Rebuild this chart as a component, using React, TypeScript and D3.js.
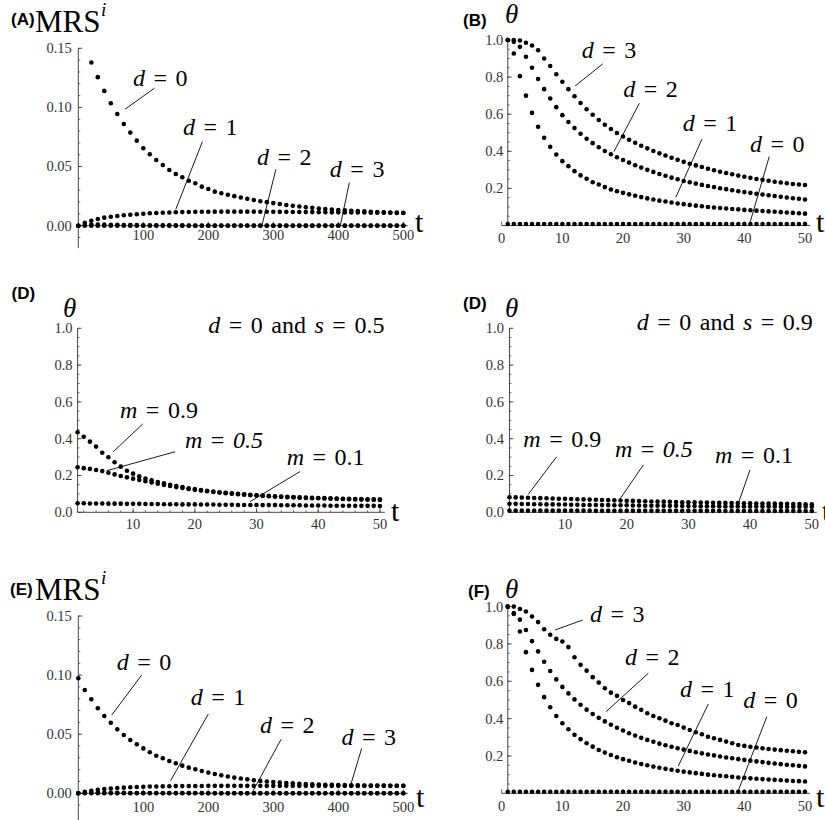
import React from "react";
import * as d3 from "d3";

const SERIF = '"Liberation Serif", "DejaVu Serif", "Times New Roman", serif';
const SANS = '"Liberation Sans", Arial, sans-serif';
const AXIS = "#333";
const TICKTXT = "#333";

// ---------- x categories ----------
const tMRS = d3.range(0, 501, 10); // t = 0,10,...,500
const tTheta = d3.range(1, 51); // t = 1..50

// ---------- tick labels ----------
const mrsYTicks = [0, 0.05, 0.1, 0.15];
const mrsXTicks = [100, 200, 300, 400, 500];
const thetaYTicks = [0.2, 0.4, 0.6, 0.8, 1.0];
const thetaXTicks = [0, 10, 20, 30, 40, 50];
const dYTicks = [0, 0.2, 0.4, 0.6, 0.8, 1.0];
const dXTicks = [10, 20, 30, 40, 50];

// ---------- Panel A : MRS^i ----------
const A_d0 = [null, null, 0.138, 0.1256, 0.114, 0.1036, 0.0945, 0.086, 0.0787, 0.0719,
  0.0655, 0.0604, 0.0556, 0.0513, 0.0471, 0.0437, 0.041, 0.038, 0.0359, 0.033,
  0.031, 0.0288, 0.0275, 0.0262, 0.025, 0.0238, 0.0227, 0.0217, 0.0207, 0.0199,
  0.0191, 0.0183, 0.0175, 0.0168, 0.0162, 0.0156, 0.0151, 0.0146, 0.0141, 0.0137,
  0.0133, 0.013, 0.0127, 0.0124, 0.0121, 0.0118, 0.0116, 0.0114, 0.0112, 0.0111, 0.011];
const A_d1 = [0, 0.0025, 0.0042, 0.0057, 0.0068, 0.0076, 0.0082, 0.0088, 0.0093, 0.0097,
  0.0101, 0.0105, 0.0108, 0.011, 0.0112, 0.0114, 0.0115, 0.0116, 0.0117, 0.0118,
  0.0118, 0.0119, 0.0119, 0.0119, 0.0119, 0.0119, 0.0119, 0.0119, 0.0118, 0.0118,
  0.0118, 0.0117, 0.0117, 0.0116, 0.0116, 0.0115, 0.0115, 0.0114, 0.0114, 0.0113,
  0.0113, 0.0112, 0.0112, 0.0111, 0.0111, 0.011, 0.011, 0.0109, 0.0109, 0.0108, 0.0108];
const A_d2 = [0, 0.0008, 0.001, 0.001, 0.0009, 0.0008, 0.0007, 0.0006, 0.0005, 0.0005,
  0.0004, 0.0004, 0.0004, 0.0003, 0.0003, 0.0003, 0.0003, 0.0002, 0.0002, 0.0002,
  0.0002, 0.0002, 0.0002, 0.0002, 0.0002, 0.0002, 0.0002, 0.0002, 0.0002, 0.0002,
  0.0001, 0.0001, 0.0001, 0.0001, 0.0001, 0.0001, 0.0001, 0.0001, 0.0001, 0.0001,
  0.0001, 0.0001, 0.0001, 0.0001, 0.0001, 0.0001, 0.0001, 0.0001, 0.0001, 0.0001, 0.0001];
const A_d3 = [0, 0, 0, 0, 0, 0, 0, 0, 0, 0,
  0, 0, 0, 0, 0, 0, 0, 0, 0, 0,
  0, 0, 0, 0, 0, 0, 0, 0, 0, 0,
  0, 0, 0, 0, 0, 0, 0, 0, 0, 0,
  0, 0, 0, 0, 0, 0, 0, 0, 0, 0, 0];

// ---------- Panel B : theta ----------
const B_d3 = [1.0, 1.0, 0.997, 0.985, 0.97, 0.945, 0.9, 0.86, 0.815, 0.775,
  0.735, 0.697, 0.66, 0.627, 0.597, 0.569, 0.543, 0.52, 0.499, 0.48,
  0.462, 0.446, 0.43, 0.416, 0.402, 0.389, 0.377, 0.365, 0.354, 0.343,
  0.333, 0.324, 0.315, 0.306, 0.298, 0.29, 0.283, 0.276, 0.269, 0.263,
  0.257, 0.251, 0.246, 0.241, 0.236, 0.232, 0.228, 0.224, 0.221, 0.218];
const B_d2 = [1.0, 0.99, 0.963, 0.91, 0.85, 0.79, 0.735, 0.685, 0.638, 0.595,
  0.558, 0.525, 0.495, 0.468, 0.444, 0.422, 0.402, 0.384, 0.368, 0.353,
  0.339, 0.325, 0.312, 0.3, 0.289, 0.278, 0.268, 0.258, 0.249, 0.24,
  0.233, 0.226, 0.219, 0.213, 0.207, 0.201, 0.196, 0.19, 0.185, 0.18,
  0.176, 0.171, 0.167, 0.163, 0.159, 0.155, 0.151, 0.147, 0.144, 0.14];
const B_d1 = [1.0, 0.927, 0.805, 0.7, 0.607, 0.532, 0.473, 0.424, 0.383, 0.347,
  0.32, 0.293, 0.27, 0.252, 0.233, 0.221, 0.207, 0.194, 0.185, 0.176,
  0.168, 0.16, 0.153, 0.146, 0.14, 0.134, 0.129, 0.124, 0.119, 0.115,
  0.111, 0.107, 0.104, 0.1, 0.097, 0.094, 0.092, 0.089, 0.087, 0.084,
  0.082, 0.08, 0.078, 0.076, 0.074, 0.072, 0.07, 0.068, 0.066, 0.064];
const B_d0 = [0.008, 0.008, 0.008, 0.008, 0.008, 0.008, 0.008, 0.008, 0.008, 0.008,
  0.008, 0.008, 0.008, 0.008, 0.008, 0.008, 0.008, 0.008, 0.008, 0.008,
  0.008, 0.008, 0.008, 0.008, 0.008, 0.008, 0.008, 0.008, 0.008, 0.008,
  0.008, 0.008, 0.008, 0.008, 0.008, 0.008, 0.008, 0.008, 0.008, 0.008,
  0.008, 0.008, 0.008, 0.008, 0.008, 0.008, 0.008, 0.008, 0.008, 0.008];

// ---------- Panel D (s = 0.5) ----------
const DL_m09 = [0.435, 0.411, 0.384, 0.357, 0.324, 0.299, 0.272, 0.248, 0.226, 0.21,
  0.196, 0.184, 0.174, 0.165, 0.157, 0.15, 0.143, 0.137, 0.131, 0.126,
  0.121, 0.117, 0.113, 0.109, 0.106, 0.103, 0.1, 0.098, 0.095, 0.093,
  0.091, 0.089, 0.087, 0.086, 0.084, 0.083, 0.081, 0.08, 0.079, 0.078,
  0.077, 0.076, 0.075, 0.074, 0.073, 0.072, 0.072, 0.071, 0.07, 0.07];
const DL_m05 = [0.245, 0.24, 0.236, 0.23, 0.224, 0.215, 0.206, 0.197, 0.19, 0.183,
  0.176, 0.169, 0.162, 0.155, 0.149, 0.143, 0.137, 0.132, 0.127, 0.122,
  0.118, 0.114, 0.11, 0.107, 0.104, 0.101, 0.098, 0.096, 0.093, 0.091,
  0.089, 0.087, 0.085, 0.084, 0.082, 0.081, 0.079, 0.078, 0.077, 0.076,
  0.075, 0.074, 0.073, 0.072, 0.071, 0.07, 0.069, 0.068, 0.068, 0.067];
const DL_m01 = [0.049, 0.049, 0.048, 0.048, 0.048, 0.047, 0.047, 0.047, 0.046, 0.046,
  0.046, 0.045, 0.045, 0.045, 0.044, 0.044, 0.044, 0.043, 0.043, 0.043,
  0.042, 0.042, 0.042, 0.041, 0.041, 0.041, 0.04, 0.04, 0.04, 0.04,
  0.039, 0.039, 0.039, 0.038, 0.038, 0.038, 0.038, 0.037, 0.037, 0.037,
  0.037, 0.036, 0.036, 0.036, 0.036, 0.035, 0.035, 0.035, 0.035, 0.034];

// ---------- Panel D (s = 0.9) ----------
const DR_m09 = [0.082, 0.081, 0.08, 0.079, 0.078, 0.077, 0.076, 0.075, 0.074, 0.073,
  0.072, 0.071, 0.07, 0.069, 0.068, 0.067, 0.066, 0.065, 0.064, 0.063,
  0.062, 0.061, 0.06, 0.059, 0.058, 0.058, 0.057, 0.056, 0.055, 0.055,
  0.054, 0.053, 0.053, 0.052, 0.051, 0.051, 0.05, 0.05, 0.049, 0.049,
  0.048, 0.048, 0.047, 0.047, 0.046, 0.046, 0.045, 0.045, 0.044, 0.043];
const DR_m05 = [0.046, 0.046, 0.045, 0.045, 0.044, 0.044, 0.043, 0.043, 0.042, 0.042,
  0.041, 0.041, 0.04, 0.04, 0.04, 0.039, 0.039, 0.038, 0.038, 0.038,
  0.037, 0.037, 0.036, 0.036, 0.036, 0.035, 0.035, 0.035, 0.034, 0.034,
  0.034, 0.033, 0.033, 0.033, 0.033, 0.032, 0.032, 0.032, 0.032, 0.031,
  0.031, 0.031, 0.031, 0.031, 0.03, 0.03, 0.03, 0.03, 0.03, 0.03];
const DR_m01 = [0.009, 0.009, 0.009, 0.009, 0.009, 0.009, 0.009, 0.009, 0.009, 0.009,
  0.009, 0.009, 0.009, 0.009, 0.008, 0.008, 0.008, 0.008, 0.008, 0.008,
  0.008, 0.008, 0.008, 0.008, 0.008, 0.008, 0.008, 0.008, 0.008, 0.008,
  0.008, 0.008, 0.008, 0.008, 0.008, 0.007, 0.007, 0.007, 0.007, 0.007,
  0.007, 0.007, 0.007, 0.007, 0.007, 0.007, 0.007, 0.007, 0.007, 0.007];

// ---------- Panel E : MRS^i ----------
const E_d0 = [0.0973, 0.0874, 0.0795, 0.0719, 0.0654, 0.0597, 0.0541, 0.0493, 0.0451, 0.0414,
  0.038, 0.0347, 0.0318, 0.0296, 0.0273, 0.0254, 0.0234, 0.0217, 0.0203, 0.0189,
  0.0175, 0.0163, 0.0152, 0.0142, 0.0133, 0.0125, 0.0118, 0.0111, 0.0105, 0.01,
  0.0095, 0.0091, 0.0087, 0.0084, 0.0081, 0.0078, 0.0076, 0.0074, 0.0072, 0.0071,
  0.007, 0.0069, 0.0068, 0.0067, 0.0066, 0.0066, 0.0065, 0.0065, 0.0064, 0.0064, 0.0064];
const E_d1 = [0, 0.0012, 0.0022, 0.003, 0.0036, 0.0041, 0.0045, 0.0048, 0.0051, 0.0053,
  0.0055, 0.0057, 0.0058, 0.0059, 0.006, 0.0061, 0.0061, 0.0062, 0.0062, 0.0062,
  0.0063, 0.0063, 0.0063, 0.0063, 0.0063, 0.0063, 0.0063, 0.0063, 0.0063, 0.0063,
  0.0063, 0.0063, 0.0063, 0.0063, 0.0063, 0.0063, 0.0063, 0.0063, 0.0063, 0.0063,
  0.0063, 0.0063, 0.0063, 0.0063, 0.0063, 0.0063, 0.0063, 0.0063, 0.0063, 0.0063, 0.0063];
const E_d2 = [0, 0.0005, 0.0006, 0.0006, 0.0005, 0.0005, 0.0004, 0.0004, 0.0003, 0.0003,
  0.0003, 0.0002, 0.0002, 0.0002, 0.0002, 0.0002, 0.0002, 0.0002, 0.0002, 0.0002,
  0.0001, 0.0001, 0.0001, 0.0001, 0.0001, 0.0001, 0.0001, 0.0001, 0.0001, 0.0001,
  0.0001, 0.0001, 0.0001, 0.0001, 0.0001, 0.0001, 0.0001, 0.0001, 0.0001, 0.0001,
  0.0001, 0.0001, 0.0001, 0.0001, 0.0001, 0.0001, 0.0001, 0.0001, 0.0001, 0.0001, 0.0001];
const E_d3 = [0, 0, 0, 0, 0, 0, 0, 0, 0, 0,
  0, 0, 0, 0, 0, 0, 0, 0, 0, 0,
  0, 0, 0, 0, 0, 0, 0, 0, 0, 0,
  0, 0, 0, 0, 0, 0, 0, 0, 0, 0,
  0, 0, 0, 0, 0, 0, 0, 0, 0, 0, 0];

// ---------- Panel F : theta ----------
const F_d3 = [1.0, 1.0, 0.987, 0.974, 0.947, 0.917, 0.879, 0.849, 0.827, 0.813,
  0.783, 0.729, 0.688, 0.657, 0.622, 0.593, 0.563, 0.539, 0.522, 0.5,
  0.483, 0.464, 0.447, 0.429, 0.414, 0.402, 0.389, 0.375, 0.366, 0.352,
  0.339, 0.327, 0.316, 0.303, 0.295, 0.286, 0.277, 0.268, 0.259, 0.254,
  0.249, 0.245, 0.241, 0.237, 0.234, 0.231, 0.228, 0.225, 0.222, 0.22];
const F_d2 = [1.0, 0.965, 0.93, 0.875, 0.815, 0.76, 0.705, 0.655, 0.61, 0.57,
  0.535, 0.503, 0.474, 0.448, 0.425, 0.404, 0.385, 0.367, 0.351, 0.336,
  0.322, 0.309, 0.297, 0.286, 0.276, 0.266, 0.257, 0.249, 0.241, 0.234,
  0.227, 0.22, 0.214, 0.208, 0.203, 0.197, 0.192, 0.188, 0.183, 0.179,
  0.175, 0.171, 0.167, 0.163, 0.16, 0.156, 0.153, 0.15, 0.147, 0.144];
const F_d1 = [1.0, 0.96, 0.867, 0.756, 0.661, 0.581, 0.515, 0.461, 0.414, 0.375,
  0.343, 0.313, 0.29, 0.268, 0.25, 0.232, 0.218, 0.205, 0.193, 0.183,
  0.174, 0.165, 0.157, 0.15, 0.143, 0.137, 0.131, 0.126, 0.121, 0.116,
  0.112, 0.108, 0.104, 0.1, 0.097, 0.094, 0.091, 0.088, 0.085, 0.083,
  0.08, 0.078, 0.076, 0.074, 0.072, 0.07, 0.068, 0.066, 0.065, 0.063];
const F_d0 = B_d0;

// ---------- annotation text ----------
type Part = { s: string; it?: boolean };
const dEq = (n: string): Part[] => [{ s: "d", it: true }, { s: "=" }, { s: n }];
const mEq = (n: string, itNum = false): Part[] => [{ s: "m", it: true }, { s: "=" }, { s: n, it: itNum }];
const dsEq = (sv: string): Part[] => [
  { s: "d", it: true }, { s: "=" }, { s: "0" }, { s: "and" }, { s: "s", it: true }, { s: "=" }, { s: sv },
];

type Pt = [number, number];
type Note = { parts: Part[]; at: Pt; line?: [Pt, Pt] };

interface Cfg {
  x: d3.ScaleLinear<number, number>;
  y: d3.ScaleLinear<number, number>;
  yAxisT: number;
  yAxisSpan: [number, number];
  xAxisSpan: [number, number];
  yMajor: number[];
  yMinor: number[];
  yFmt: (v: number) => string;
  yLabelGap: number;
  xMajor: number[];
  xMinor: number[];
  xLabelBase: number;
  t: number[];
  series: (number | null)[][];
  notes: Note[];
}

const fmt2 = d3.format(".2f");
const fmt1 = d3.format(".1f");

const mrsMinor = d3.range(-0.01, 0.1501, 0.01);
const thetaMinor = d3.range(0.05, 1.0001, 0.05);

const cfgA: Cfg = {
  x: d3.scaleLinear().domain([0, 500]).range([78.3, 403.3]),
  y: d3.scaleLinear().domain([0, 0.15]).range([225.7, 48.3]),
  yAxisT: 0,
  yAxisSpan: [-0.019, 0.15],
  xAxisSpan: [0, 507],
  yMajor: mrsYTicks,
  yMinor: mrsMinor,
  yFmt: fmt2,
  yLabelGap: 6.5,
  xMajor: mrsXTicks,
  xMinor: d3.range(20, 501, 20),
  xLabelBase: 14,
  t: tMRS,
  series: [A_d0, A_d1, A_d2, A_d3],
  notes: [
    { parts: dEq("0"), at: [84, 0.1185], line: [[117, 0.1162], [72, 0.0985]] },
    { parts: dEq("1"), at: [161, 0.0768], line: [[191, 0.0711], [150, 0.0139]] },
    { parts: dEq("2"), at: [275, 0.0514], line: [[304, 0.0477], [282, -0.0008]] },
    { parts: dEq("3"), at: [387, 0.0415], line: [[417, 0.0364], [403, 0]] },
  ],
};

const cfgE: Cfg = {
  ...cfgA,
  y: d3.scaleLinear().domain([0, 0.15]).range([793.3, 616]),
  yAxisSpan: [-0.025, 0.15],
  xLabelBase: 18.5,
  series: [E_d0, E_d1, E_d2, E_d3],
  notes: [
    { parts: dEq("0"), at: [59, 0.1043], line: [[97.5, 0.1], [51.4, 0.0662]] },
    { parts: dEq("1"), at: [173, 0.0747], line: [[200, 0.0671], [142, 0.0107]] },
    { parts: dEq("2"), at: [279.5, 0.0508], line: [[312, 0.0457], [269, 0.0022]] },
    { parts: dEq("3"), at: [405, 0.0409], line: [[436, 0.0381], [418, 0.0051]] },
  ],
};

const cfgB: Cfg = {
  x: d3.scaleLinear().domain([0, 50]).range([501.7, 805]),
  y: d3.scaleLinear().domain([0, 1]).range([225.5, 40]),
  yAxisT: 1,
  yAxisSpan: [0, 1],
  xAxisSpan: [0, 50.8],
  yMajor: thetaYTicks,
  yMinor: thetaMinor,
  yFmt: fmt1,
  yLabelGap: 4.5,
  xMajor: thetaXTicks,
  xMinor: d3.range(2, 51, 2),
  xLabelBase: 17,
  t: tTheta,
  series: [B_d3, B_d2, B_d1, B_d0],
  notes: [
    { parts: dEq("3"), at: [13.2, 0.901], line: [[16.65, 0.871], [12.1, 0.752]] },
    { parts: dEq("2"), at: [20.05, 0.694], line: [[22.7, 0.659], [18.5, 0.398]] },
    { parts: dEq("1"), at: [29.84, 0.511], line: [[33.0, 0.465], [28.7, 0.152]] },
    { parts: dEq("0"), at: [40.93, 0.398], line: [[44.1, 0.371], [40.9, 0.012]] },
  ],
};

const cfgF: Cfg = {
  ...cfgB,
  y: d3.scaleLinear().domain([0, 1]).range([793.3, 606.6]),
  xLabelBase: 18,
  series: [F_d3, F_d2, F_d1, F_d0],
  notes: [
    { parts: dEq("3"), at: [14.56, 0.919], line: [[13.35, 0.928], [8.8, 0.875]] },
    { parts: dEq("2"), at: [20.33, 0.687], line: [[24.17, 0.643], [17.2, 0.437]] },
    { parts: dEq("1"), at: [29.39, 0.517], line: [[34.06, 0.478], [29.1, 0.146]] },
    { parts: dEq("0"), at: [39.83, 0.455], line: [[43.7, 0.41], [39.0, 0.014]] },
  ],
};

const cfgDL: Cfg = {
  x: d3.scaleLinear().domain([0, 50]).range([71.4, 379.9]),
  y: d3.scaleLinear().domain([0, 1]).range([512.3, 328.3]),
  yAxisT: 1,
  yAxisSpan: [0, 1],
  xAxisSpan: [1, 50.8],
  yMajor: dYTicks,
  yMinor: thetaMinor,
  yFmt: fmt1,
  yLabelGap: 5,
  xMajor: dXTicks,
  xMinor: d3.range(2, 51, 2),
  xLabelBase: 16.5,
  t: tTheta,
  series: [DL_m09, DL_m05, DL_m01],
  notes: [
    { parts: dsEq("0.5"), at: [22.19, 0.973] },
    { parts: mEq("0.9"), at: [7.88, 0.511], line: [[11.56, 0.48], [6.79, 0.329]] },
    { parts: mEq("0.5", true), at: [18.41, 0.348], line: [[16.79, 0.329], [5.72, 0.226]] },
    { parts: mEq("0.1"), at: [34.89, 0.257], line: [[37.05, 0.221], [28.95, 0.058]] },
  ],
};

const cfgDR: Cfg = {
  ...cfgDL,
  x: d3.scaleLinear().domain([0, 50]).range([503.3, 811.8]),
  yLabelGap: 5.5,
  series: [DR_m09, DR_m05, DR_m01],
  notes: [
    { parts: dsEq("0.9"), at: [21.62, 0.991] },
    { parts: mEq("0.9"), at: [3.24, 0.357], line: [[8.65, 0.302], [4.05, 0.098]] },
    { parts: mEq("0.5", true), at: [18.1, 0.302], line: [[22.69, 0.257], [18.8, 0.067]] },
    { parts: mEq("0.1"), at: [34.31, 0.266], line: [[39.98, 0.23], [38.09, 0.049]] },
  ],
};

const serifStyle = (size: number, italic = false): React.CSSProperties => ({
  fontFamily: SERIF,
  fontSize: size + "px",
  fontStyle: italic ? "italic" : "normal",
});

function Eq({ x, y, parts, size = 24, gap = 8.5 }: { x: number; y: number; parts: Part[]; size?: number; gap?: number }) {
  return (
    <text x={x} y={y} style={serifStyle(size)} fill="#000">
      {parts.map((p, i) => (
        <tspan key={i} dx={i === 0 ? 0 : gap} style={{ fontStyle: p.it ? "italic" : "normal" }}>
          {p.s}
        </tspan>
      ))}
    </text>
  );
}

function Panel({ c }: { c: Cfg }) {
  const ax = c.x(c.yAxisT);
  const ay = c.y(0);
  return (
    <g>
      <line x1={ax} x2={ax} y1={c.y(c.yAxisSpan[0])} y2={c.y(c.yAxisSpan[1])} stroke={AXIS} strokeWidth={0.9} />
      {c.yMinor.map((v, i) => (
        <line key={"ym" + i} x1={ax} x2={ax + 2} y1={c.y(v)} y2={c.y(v)} stroke={AXIS} strokeWidth={0.7} />
      ))}
      {c.yMajor.map((v, i) => (
        <g key={"yM" + i}>
          <line x1={ax} x2={ax + 4} y1={c.y(v)} y2={c.y(v)} stroke={AXIS} strokeWidth={0.8} />
          <text x={ax - c.yLabelGap} y={c.y(v)} dy="0.34em" textAnchor="end" style={serifStyle(14.5)} fill={TICKTXT}>
            {c.yFmt(v)}
          </text>
        </g>
      ))}
      <line x1={c.x(c.xAxisSpan[0])} x2={c.x(c.xAxisSpan[1])} y1={ay} y2={ay} stroke={AXIS} strokeWidth={0.9} />
      {c.xMinor.map((v, i) => (
        <line key={"xm" + i} x1={c.x(v)} x2={c.x(v)} y1={ay} y2={ay - 2} stroke={AXIS} strokeWidth={0.7} />
      ))}
      {c.xMajor.map((v, i) => (
        <g key={"xM" + i}>
          <line x1={c.x(v)} x2={c.x(v)} y1={ay} y2={ay - 4} stroke={AXIS} strokeWidth={0.8} />
          <text x={c.x(v)} y={ay + c.xLabelBase} textAnchor="middle" style={serifStyle(14.5)} fill={TICKTXT}>
            {v}
          </text>
        </g>
      ))}
      {c.series.map((s, si) => (
        <g key={"s" + si}>
          {s.map((v, i) =>
            v === null ? null : <circle key={i} cx={c.x(c.t[i])} cy={c.y(v)} r={2.3} fill="#000" />
          )}
        </g>
      ))}
      {c.notes.map((n, i) => (
        <g key={"n" + i}>
          {n.line && (
            <line
              x1={c.x(n.line[0][0])}
              y1={c.y(n.line[0][1])}
              x2={c.x(n.line[1][0])}
              y2={c.y(n.line[1][1])}
              stroke="#000"
              strokeWidth={0.9}
            />
          )}
          <Eq x={c.x(n.at[0])} y={c.y(n.at[1])} parts={n.parts} />
        </g>
      ))}
    </g>
  );
}

function Tag({ x, y, s }: { x: number; y: number; s: string }) {
  return (
    <text x={x} y={y} style={{ fontFamily: SANS, fontWeight: "bold", fontSize: "17px" }} fill="#000">
      {s}
    </text>
  );
}

function MRS({ x, y }: { x: number; y: number }) {
  return (
    <g>
      <text x={x} y={y} style={serifStyle(31)} fill="#000">MRS</text>
      <text x={x + 66} y={y - 16} style={serifStyle(19, true)} fill="#000">i</text>
    </g>
  );
}

function Theta({ x, y }: { x: number; y: number }) {
  return (
    <text x={x} y={y} style={serifStyle(27, true)} fill="#000">θ</text>
  );
}

function TLabel({ x, y }: { x: number; y: number }) {
  return (
    <text x={x} y={y} style={serifStyle(30)} fill="#000">t</text>
  );
}

export default function App() {
  return (
    <svg
      width={825}
      height={820}
      viewBox="0 0 825 820"
      style={{ position: "absolute", left: 0, top: 0, background: "#fff", display: "block" }}
    >
      <rect x={0} y={0} width={825} height={820} fill="#fff" />
      {/* A */}
      <Tag x={11} y={25} s="(A)" />
      <MRS x={35} y={31.7} />
      <Panel c={cfgA} />
      <TLabel x={415} y={232} />
      {/* B */}
      <Tag x={463} y={26} s="(B)" />
      <Theta x={505} y={23} />
      <Panel c={cfgB} />
      <TLabel x={816} y={232} />
      {/* D left */}
      <Tag x={11.5} y={299} s="(D)" />
      <Theta x={63} y={316.5} />
      <Panel c={cfgDL} />
      <TLabel x={391} y={521} />
      {/* D right */}
      <Tag x={463} y={309} s="(D)" />
      <Theta x={505} y={316.5} />
      <Panel c={cfgDR} />
      <TLabel x={822} y={521} />
      {/* E */}
      <Tag x={10} y={595} s="(E)" />
      <MRS x={35} y={600} />
      <Panel c={cfgE} />
      <TLabel x={416} y={806.5} />
      {/* F */}
      <Tag x={468} y={597} s="(F)" />
      <Theta x={505} y={598} />
      <Panel c={cfgF} />
      <TLabel x={816} y={806.5} />
    </svg>
  );
}
